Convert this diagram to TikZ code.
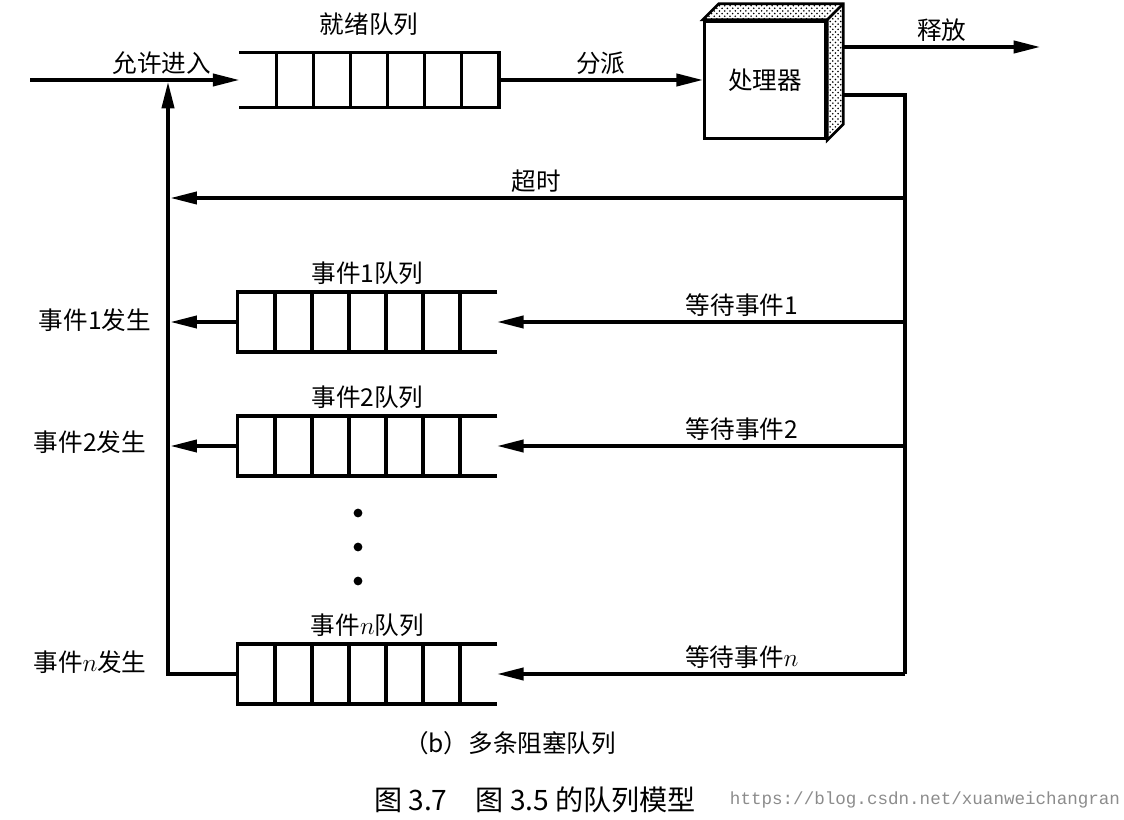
\documentclass[tikz,border=0pt]{standalone}
\usepackage{fontspec}
\newfontfamily\cjk{Noto Sans CJK SC}
\setmonofont{Liberation Mono}
\usetikzlibrary{arrows.meta,positioning,calc,patterns}

\begin{document}
\begin{tikzpicture}[x=0.02cm,y=-0.02cm,
  font=\cjk\fontsize{14}{16}\selectfont,
  queue/.style={minimum width=5.18cm,minimum height=1.18cm,inner sep=0pt},
  qline/.style={line width=2pt},
  wire/.style={line width=1.8pt},
  lab/.style={inner sep=2pt},
  dot/.style={circle,fill,inner sep=0pt,minimum size=5pt},
  >={Triangle[length=15pt,width=7pt]}]
  \useasboundingbox (0,0) rectangle (1124,820);
  \node[queue,minimum height=1.08cm] (ready) at (369,80) {};
  \node[queue] (ev1) at (367.5,322) {};
  \node[queue] (ev2) at (367.5,446) {};
  \node[queue] (evn) at (367.5,674) {};
  \draw[qline] (ready.north west) -- (ready.north east) -- (ready.south east) -- (ready.south west);
  \foreach \i in {1,...,6}
    \draw[qline] ($(ready.north west)!\i/7!(ready.north east)$) -- ($(ready.south west)!\i/7!(ready.south east)$);
  \foreach \q in {ev1,ev2,evn} {
    \draw[qline] (\q.north east) -- (\q.north west) -- (\q.south west) -- (\q.south east);
    \foreach \i in {1,...,6}
      \draw[qline] ($(\q.north west)!\i/7!(\q.north east)$) -- ($(\q.south west)!\i/7!(\q.south east)$);
  }
  \node[above=6pt of ready] (readyt) {就绪队列};
  \node[above=1pt of ev1] (ev1t) {事件1队列};
  \node[above=1pt of ev2] (ev2t) {事件2队列};
  \node[above=1pt of evn] (evnt) {事件$n$队列};
  \node[draw,line width=2pt,minimum width=2.42cm,minimum height=2.34cm] (cpu) at (765,80) {处理器};
  \draw[line width=1.5pt,pattern=crosshatch dots] (cpu.north west) -- ++(16,-16) -| ($(cpu.south east)+(16,-16)$) -- (cpu.south east) -- (cpu.north east) -- cycle;
  \draw[line width=1.5pt] (cpu.north east) -- ++(16,-16);
  \coordinate (in) at (30,80);
  \coordinate (rel) at (1040,47);
  \coordinate (bus) at (905,674);
  \coordinate (join) at (168,82);
  \coordinate (tmo) at (905,198);
  \coordinate (tmoend) at (168,198);
  \draw[wire,->] (in) -- node[above,lab,pos=0.63]{允许进入} (ready.west);
  \draw[wire,->] (ready.east) -- node[above,lab]{分派} (cpu.west);
  \draw[wire,->] ($(cpu.east)+(16,-33)$) -- node[above,lab]{释放} (rel);
  \draw[wire] ($(cpu.east)+(16,15)$) -| (bus);
  \draw[wire,->,shorten >=1.5pt] (tmo) -- node[above,lab]{超时} (tmoend);
  \draw[wire,->] (bus |- ev1) -- node[above,lab,pos=0.4]{等待事件1} (ev1.east);
  \draw[wire,->] (bus |- ev2) -- node[above,lab,pos=0.4]{等待事件2} (ev2.east);
  \draw[wire,->] (bus) -- node[above,lab,pos=0.4]{等待事件$n$} (evn.east);
  \draw[wire,->,shorten >=1.5pt] (ev1.west) -- (join |- ev1);
  \draw[wire,->,shorten >=1.5pt] (ev2.west) -- (join |- ev2);
  \draw[wire,->] (evn.west) -| (join);
  \node (occ1) at (95,320) {事件1发生};
  \node (occ2) at (90,442) {事件2发生};
  \node (occn) at (90,662) {事件$n$发生};
  \node[dot] (d1) at (358,513) {};
  \node[dot] (d2) at (358,547) {};
  \node[dot] (d3) at (358,581) {};
  \node (sub) at (510,743) {（b）多条阻塞队列};
  \node (cap) at (535,800) {\fontsize{16}{18}\selectfont 图 3.7\quad 图 3.5 的队列模型};
  \node[text=black!45] (wm) at (925,800) {\ttfamily\fontsize{10}{12}\selectfont https://blog.csdn.net/xuanweichangran};
\end{tikzpicture}
\end{document}
